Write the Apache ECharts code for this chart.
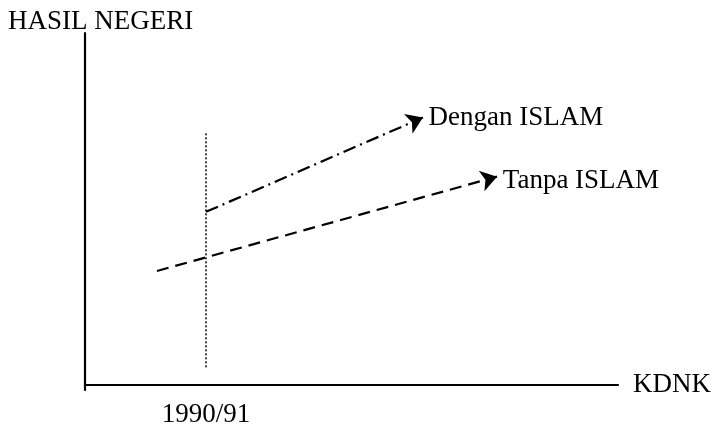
<!DOCTYPE html>
<html>
<head>
<meta charset="utf-8">
<script src="https://cdn.jsdelivr.net/npm/echarts@6/dist/echarts.min.js"></script>
<style>html,body{margin:0;padding:0;background:#fff}#c{width:714px;height:428px}</style>
</head>
<body>
<div id="c"></div>
<script>
// Data (in abstract chart units)
const yAxisTitle = 'HASIL NEGERI';
const xAxisTitle = 'KDNK';
const periodLabel = '1990/91';
const periodX = 22.7;
const periodMarker = [[22.7, 71.5], [22.7, 5.0]];
const seriesNames = ['Dengan ISLAM', 'Tanpa ISLAM'];
const denganLine = [[22.7, 49.2], [63.4, 76.0]];
const tanpaLine = [[13.5, 32.4], [77.3, 59.2]];

const FONT = '"Liberation Serif", "Times New Roman", serif';
const FS = 27;
const chart = echarts.init(document.getElementById('c'), null, {renderer: 'canvas'});

function arrowSeries(name, pts, dash, dy) {
  return {
    type: 'line',
    name: name,
    data: pts,
    showSymbol: false,
    silent: true,
    lineStyle: {opacity: 0},
    markLine: {
      silent: true,
      symbol: ['none', 'arrow'],
      symbolSize: 16,
      animation: false,
      lineStyle: {color: '#000', width: 2.2, type: dash},
      label: {show: true, position: 'end', distance: 6, formatter: name,
              offset: [0, dy],
              color: '#000', fontFamily: FONT, fontSize: FS},
      data: [[{coord: pts[0]}, {coord: pts[pts.length - 1]}]]
    }
  };
}

chart.setOption({
  animation: false,
  backgroundColor: '#fff',
  title: {text: yAxisTitle, left: 3, top: 3,
          textStyle: {fontFamily: FONT, fontSize: FS, fontWeight: 'normal', color: '#000'}},
  grid: {left: 85, right: 96, top: 33, bottom: 32},
  xAxis: {
    type: 'value', min: 0, max: 100,
    name: xAxisTitle, nameLocation: 'end', nameGap: 15,
    nameTextStyle: {fontFamily: FONT, fontSize: FS, color: '#000', padding: [4, 0, 0, 0]},
    axisLine: {onZero: true, lineStyle: {color: '#000', width: 2.2}},
    axisTick: {show: false},
    splitLine: {show: false},
    axisLabel: {customValues: [periodX], formatter: () => periodLabel, margin: 11,
                fontFamily: FONT, fontSize: FS, color: '#000'}
  },
  yAxis: {
    type: 'value', min: -1.4, max: 100,
    axisLine: {show: true, onZero: true, lineStyle: {color: '#000', width: 2.2}},
    axisTick: {show: false},
    splitLine: {show: false},
    axisLabel: {show: false}
  },
  series: [
    {
      type: 'line', data: periodMarker, showSymbol: false, silent: true,
      lineStyle: {color: '#000', width: 1.5, type: [2, 2]}
    },
    arrowSeries(seriesNames[0], denganLine, [13, 5, 2, 5], 3),
    arrowSeries(seriesNames[1], tanpaLine, [12, 7], 6)
  ]
});
</script>
</body>
</html>
